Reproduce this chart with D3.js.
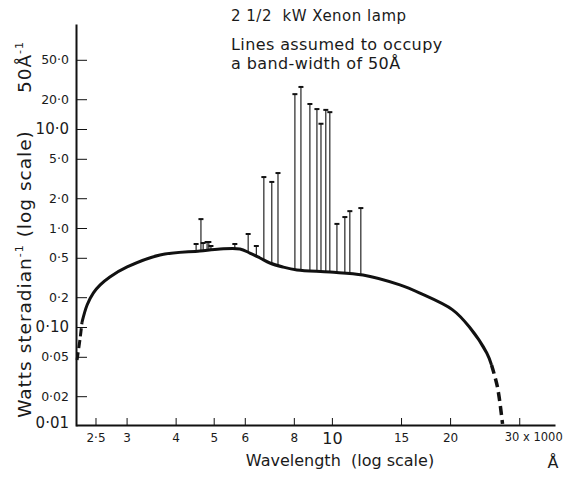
<!DOCTYPE html>
<html>
<head>
<meta charset="utf-8">
<script src="https://cdn.jsdelivr.net/npm/d3@7"></script>
<style>
  body { margin: 0; background: #fff; }
  text { font-family: "DejaVu Sans", sans-serif; fill: #1a1a1a; white-space: pre; }
</style>
</head>
<body>
<svg id="chart" width="565" height="477"></svg>
<script>
// continuum curve (wavelength in 1000 Å, watts / sr / 50 Å)
var curveWl  = [2.31, 2.38, 2.47, 2.57, 2.72, 3.01, 3.65, 4.61, 5.19, 5.83, 6.18, 6.56, 6.95, 7.50, 8.15, 9.89, 12.0, 14.9, 16.7, 20.3, 22.4, 24.8, 25.5];
var curveVal = [0.112, 0.167, 0.221, 0.266, 0.320, 0.404, 0.534, 0.586, 0.614, 0.614, 0.559, 0.498, 0.443, 0.404, 0.377, 0.359, 0.335, 0.266, 0.221, 0.149, 0.100, 0.0546, 0.0413];
// extrapolated ends (dashed)
var leftWl  = [2.244, 2.285, 2.31];
var leftVal = [0.0464, 0.0774, 0.112];
var rightWl  = [25.5, 26.4, 27.2];
var rightVal = [0.0413, 0.0248, 0.0105];

// emission lines
var lineWl   = [4.51, 4.64, 4.70, 4.81, 4.86, 4.92, 5.66, 6.12, 6.42, 6.71, 7.03, 7.29, 8.05, 8.34, 8.79, 9.16, 9.38, 9.65, 9.88, 10.30, 10.79, 11.11, 11.85];
var lineTop  = [0.689, 1.23, 0.705, 0.722, 0.722, 0.658, 0.689, 0.870, 0.658, 3.27, 2.92, 3.59, 22.5, 26.6, 17.9, 15.9, 11.3, 15.6, 14.8, 1.10, 1.29, 1.48, 1.59];
var lineBase = [0.60, 0.59, 0.60, 0.60, 0.61, 0.61, 0.614, 0.57, 0.52, 0.486, 0.443, 0.42, 0.377, 0.368, 0.364, 0.359, 0.359, 0.359, 0.359, 0.351, 0.347, 0.343, 0.335];

// ticks
var xTicks  = [2.5, 3, 4, 5, 6, 8, 10, 15, 20, 30];
var xLabels = ["2·5", "3", "4", "5", "6", "8", "10", "15", "20", "30 x 1000"];
var yTicks  = [50, 20, 10, 5, 2, 1, 0.5, 0.2, 0.1, 0.05, 0.02, 0.01];
var yLabels = ["50·0", "20·0", "10·0", "5·0", "2·0", "1·0", "0·5", "0·2", "0·10", "0·05", "0·02", "0·01"];
var bigLabels = ["10", "10·0", "0·10", "0·01"];

var svg = d3.select("#chart");

var x = d3.scaleLog().domain([2.23, 37]).range([76, 555]);
var y = d3.scaleLog().domain([0.01, 115]).range([426, 24]);

// y axis
var yAxis = svg.append("g")
    .attr("transform", "translate(76,0)")
    .call(d3.axisLeft(y)
        .tickValues(yTicks)
        .tickSizeInner(-11)
        .tickSizeOuter(0)
        .tickPadding(7)
        .tickFormat((d, i) => yLabels[i]));
yAxis.select(".domain").attr("stroke", "#111").attr("stroke-width", 2);
yAxis.selectAll(".tick line").attr("stroke", "#111").attr("stroke-width", 1);
yAxis.selectAll(".tick").filter(d => d == 0.01).select("line").remove();
yAxis.selectAll(".tick").filter(d => d == 0.01).select("text").attr("dy", "0.1em");
yAxis.selectAll("text")
    .attr("font-family", "DejaVu Sans")
    .attr("font-size", (d, i) => bigLabels.includes(yLabels[i]) ? 15 : 12.5)
    .attr("fill", "#1a1a1a");

// x axis
var xAxis = svg.append("g")
    .attr("transform", "translate(0,425)")
    .call(d3.axisBottom(x)
        .tickValues(xTicks)
        .tickSizeInner(-7)
        .tickSizeOuter(0)
        .tickPadding(8)
        .tickFormat((d, i) => xLabels[i]));
xAxis.select(".domain").attr("stroke", "#111").attr("stroke-width", 2);
xAxis.selectAll(".tick line").attr("stroke", "#111").attr("stroke-width", 1);
xAxis.selectAll("text")
    .attr("font-family", "DejaVu Sans")
    .attr("font-size", (d, i) => bigLabels.includes(xLabels[i]) ? 16 : 12)
    .attr("fill", "#1a1a1a");
xAxis.selectAll(".tick").filter(d => d == 30).select("text")
    .attr("text-anchor", "start").attr("x", -15).attr("font-size", 11.5);

// continuum
var line = d3.line().x(d => x(d[0])).y(d => y(d[1])).curve(d3.curveCatmullRom);

svg.append("path")
    .datum(d3.zip(curveWl, curveVal))
    .attr("fill", "none").attr("stroke", "#111").attr("stroke-width", 3)
    .attr("d", line);

svg.append("path")
    .datum(d3.zip(leftWl, leftVal))
    .attr("fill", "none").attr("stroke", "#111").attr("stroke-width", 3)
    .attr("stroke-dasharray", "8,4")
    .attr("d", line);

svg.append("path")
    .datum(d3.zip(rightWl, rightVal))
    .attr("fill", "none").attr("stroke", "#111").attr("stroke-width", 3.5)
    .attr("stroke-dasharray", "9,5")
    .attr("d", line);

// emission lines
var lines = svg.append("g")
    .selectAll("g")
    .data(d3.range(lineWl.length))
    .join("g");

lines.append("line")
    .attr("x1", i => x(lineWl[i])).attr("x2", i => x(lineWl[i]))
    .attr("y1", i => y(lineBase[i])).attr("y2", i => y(lineTop[i]))
    .attr("stroke", "#111").attr("stroke-width", 1.1);

lines.append("line")
    .attr("x1", i => x(lineWl[i]) - 2.5).attr("x2", i => x(lineWl[i]) + 2.5)
    .attr("y1", i => y(lineTop[i])).attr("y2", i => y(lineTop[i]))
    .attr("stroke", "#111").attr("stroke-width", 2);

// titles
svg.append("text").attr("x", 231).attr("y", 21).attr("font-size", 15)
    .attr("letter-spacing", 0.5)
    .text("2 1/2  kW Xenon lamp");
svg.append("text").attr("x", 231).attr("y", 50).attr("font-size", 16)
    .attr("letter-spacing", 0.4)
    .text("Lines assumed to occupy");
svg.append("text").attr("x", 231).attr("y", 69).attr("font-size", 16)
    .attr("letter-spacing", 0.4)
    .text("a band-width of 50Å");

// axis labels
svg.append("text").attr("x", 340).attr("y", 466).attr("font-size", 16)
    .attr("text-anchor", "middle")
    .text("Wavelength  (log scale)");
svg.append("text").attr("x", 553).attr("y", 468).attr("font-size", 16)
    .attr("text-anchor", "middle")
    .text("Å");

var yl = svg.append("text")
    .attr("transform", "translate(31,274) rotate(-90)")
    .attr("text-anchor", "middle")
    .attr("letter-spacing", 1)
    .attr("font-size", 18.5);
yl.append("tspan").text("Watts steradian");
yl.append("tspan").attr("dy", -8).attr("font-size", 11).text("-1");
yl.append("tspan").attr("dy", 8).text(" (log scale)");

var yl2 = svg.append("text")
    .attr("transform", "translate(31,67) rotate(-90)")
    .attr("text-anchor", "middle")
    .attr("letter-spacing", 1)
    .attr("font-size", 18.5);
yl2.append("tspan").text("50Å");
yl2.append("tspan").attr("dy", -8).attr("font-size", 11).text("-1");
</script>
</body>
</html>
